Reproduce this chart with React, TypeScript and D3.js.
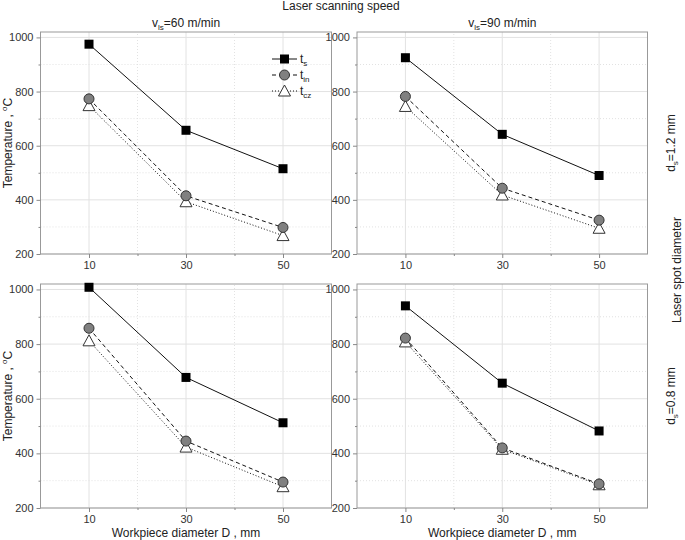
import React, { useEffect, useRef } from "react";
import * as d3 from "d3";

// workpiece diameter D, mm
const diameters = [10, 30, 50];
const xTicks = [10, 30, 50];
const xMinor = [20, 40];
const yTicks = [200, 400, 600, 800, 1000];
const yMinor = [300, 500, 700, 900];

// laser scanning speed (columns) and spot diameter (rows)
const speeds = ["60", "90"];
const spots = ["1.2", "0.8"];

// temperatures, °C
const ts60_12 = [975, 657, 515];
const tin60_12 = [773, 415, 298];
const tcz60_12 = [748, 393, 268];

const ts90_12 = [925, 642, 490];
const tin90_12 = [782, 443, 325];
const tcz90_12 = [745, 418, 295];

const ts60_08 = [1008, 678, 512];
const tin60_08 = [858, 445, 295];
const tcz60_08 = [812, 423, 278];

const ts90_08 = [940, 657, 482];
const tin90_08 = [822, 420, 288];
const tcz90_08 = [808, 415, 285];

const seriesNames = ["s", "in", "cz"];

const panels = [
  { row: 0, col: 0, series: [ts60_12, tin60_12, tcz60_12] },
  { row: 0, col: 1, series: [ts90_12, tin90_12, tcz90_12] },
  { row: 1, col: 0, series: [ts60_08, tin60_08, tcz60_08] },
  { row: 1, col: 1, series: [ts90_08, tin90_08, tcz90_08] },
];

const FONT = "Liberation Sans, Arial, sans-serif";

const App = () => {
  const ref = useRef<SVGSVGElement | null>(null);

  useEffect(() => {
    if (!ref.current) return;
    const svg = d3.select(ref.current);
    svg.selectAll("*").remove();

    const colRanges = [
      [40.5, 331.5],
      [357, 647.5],
    ];
    const rowRanges = [
      [254, 32],
      [508, 284],
    ];
    const dashes = [null, "4,3", "1,2"];

    // header
    svg
      .append("text")
      .attr("x", 341)
      .attr("y", 10)
      .attr("text-anchor", "middle")
      .attr("font-size", 12)
      .attr("fill", "#222")
      .text("Laser scanning speed");

    speeds.forEach((s, i) => {
      const cx = (colRanges[i][0] + colRanges[i][1]) / 2;
      const t = svg
        .append("text")
        .attr("x", cx)
        .attr("y", 27)
        .attr("text-anchor", "middle")
        .attr("font-size", 12)
        .attr("fill", "#222");
      t.append("tspan").text("v");
      t.append("tspan").attr("font-size", 8).attr("dy", 3).text("ls");
      t.append("tspan").attr("dy", -3).text(`=${s} m/min`);
    });

    spots.forEach((s, i) => {
      const cy = (rowRanges[i][0] + rowRanges[i][1]) / 2;
      const t = svg
        .append("text")
        .attr("transform", `translate(675,${cy}) rotate(-90)`)
        .attr("text-anchor", "middle")
        .attr("font-size", 12)
        .attr("fill", "#222");
      t.append("tspan").text("d");
      t.append("tspan").attr("font-size", 8).attr("dy", 3).text("s");
      t.append("tspan").attr("dy", -3).text(`=${s} mm`);
    });

    svg
      .append("text")
      .attr("transform", `translate(681,270) rotate(-90)`)
      .attr("text-anchor", "middle")
      .attr("font-size", 12)
      .attr("fill", "#222")
      .text("Laser spot diameter");

    panels.forEach((p) => {
      const x = d3.scaleLinear().domain([0, 60]).range(colRanges[p.col]);
      const y = d3.scaleLinear().domain([200, 1020]).range(rowRanges[p.row]);
      const g = svg.append("g");
      const [x0, x1] = x.range();
      const [yb, yt] = y.range();

      // grid
      g.selectAll(".gy")
        .data(yTicks)
        .enter()
        .append("line")
        .attr("x1", x0)
        .attr("x2", x1)
        .attr("y1", (d) => y(d))
        .attr("y2", (d) => y(d))
        .attr("stroke", "#e2e2e2")
        .attr("stroke-width", 1);
      g.selectAll(".gym")
        .data(yMinor)
        .enter()
        .append("line")
        .attr("x1", x0)
        .attr("x2", x1)
        .attr("y1", (d) => y(d))
        .attr("y2", (d) => y(d))
        .attr("stroke", "#e2e2e2")
        .attr("stroke-dasharray", "1,2");
      g.selectAll(".gx")
        .data(xTicks)
        .enter()
        .append("line")
        .attr("x1", (d) => x(d))
        .attr("x2", (d) => x(d))
        .attr("y1", yb)
        .attr("y2", yt)
        .attr("stroke", "#e2e2e2");
      g.selectAll(".gxm")
        .data(xMinor)
        .enter()
        .append("line")
        .attr("x1", (d) => x(d))
        .attr("x2", (d) => x(d))
        .attr("y1", yb)
        .attr("y2", yt)
        .attr("stroke", "#e2e2e2")
        .attr("stroke-dasharray", "1,2");

      // frame
      g.append("rect")
        .attr("x", x0)
        .attr("y", yt)
        .attr("width", x1 - x0)
        .attr("height", yb - yt)
        .attr("fill", "none")
        .attr("stroke", "#999");

      // y axis
      const ya = g
        .append("g")
        .attr("transform", `translate(${x0},0)`)
        .call(
          d3
            .axisLeft(y)
            .tickValues(yTicks)
            .tickSize(4)
            .tickPadding(3)
            .tickFormat(d3.format("d")),
        )
        .call((a) => a.select(".domain").remove());
      ya.selectAll(".tick line").attr("stroke", "#888");
      ya.selectAll("text")
        .attr("font-family", FONT)
        .attr("font-size", 11)
        .attr("fill", "#333");
      g.append("g")
        .attr("transform", `translate(${x0},0)`)
        .call(d3.axisLeft(y).tickValues(yMinor).tickSize(2).tickFormat(() => ""))
        .call((a) => a.select(".domain").remove())
        .selectAll(".tick line")
        .attr("stroke", "#888");

      // x axis
      const xa = g
        .append("g")
        .attr("transform", `translate(0,${yb})`)
        .call(
          d3
            .axisBottom(x)
            .tickValues(xTicks)
            .tickSize(4)
            .tickPadding(3)
            .tickFormat(d3.format("d")),
        )
        .call((a) => a.select(".domain").remove());
      xa.selectAll(".tick line").attr("stroke", "#888");
      xa.selectAll("text")
        .attr("font-family", FONT)
        .attr("font-size", 11)
        .attr("fill", "#333");
      g.append("g")
        .attr("transform", `translate(0,${yb})`)
        .call(d3.axisBottom(x).tickValues(xMinor).tickSize(2).tickFormat(() => ""))
        .call((a) => a.select(".domain").remove())
        .selectAll(".tick line")
        .attr("stroke", "#888");

      // axis titles
      if (p.col === 0) {
        const t = g
          .append("text")
          .attr("transform", `translate(12,${(yb + yt) / 2}) rotate(-90)`)
          .attr("text-anchor", "middle")
          .attr("font-size", 12)
          .attr("fill", "#222");
        t.append("tspan").text("Temperature , ");
        t.append("tspan").attr("font-size", 8).attr("dy", -5).text("o");
        t.append("tspan").attr("dy", 5).text("C");
      }
      if (p.row === 1) {
        g.append("text")
          .attr("x", (x0 + x1) / 2)
          .attr("y", 537)
          .attr("text-anchor", "middle")
          .attr("font-size", 12)
          .attr("fill", "#222")
          .text("Workpiece diameter D , mm");
      }

      // lines
      const line = d3
        .line<number>()
        .x((_, i) => x(diameters[i]))
        .y((d) => y(d));
      [2, 1, 0].forEach((k) => {
        g.append("path")
          .attr("d", line(p.series[k]))
          .attr("fill", "none")
          .attr("stroke", "#111")
          .attr("stroke-width", 1)
          .attr("stroke-dasharray", dashes[k]);
      });

      // markers
      const drawMarker = (sel: any, k: number, cx: number, cy: number) => {
        if (k === 0) {
          sel
            .append("rect")
            .attr("x", cx - 4.5)
            .attr("y", cy - 4.5)
            .attr("width", 9)
            .attr("height", 9)
            .attr("fill", "#000");
        } else if (k === 1) {
          sel
            .append("circle")
            .attr("cx", cx)
            .attr("cy", cy)
            .attr("r", 5)
            .attr("fill", "#808080")
            .attr("stroke", "#333");
        } else {
          sel
            .append("path")
            .attr("d", `M${cx},${cy - 6}L${cx + 6},${cy + 5}L${cx - 6},${cy + 5}Z`)
            .attr("fill", "#fff")
            .attr("stroke", "#333");
        }
      };
      [2, 1, 0].forEach((k) => {
        p.series[k].forEach((v, i) => drawMarker(g, k, x(diameters[i]), y(v)));
      });

      // legend
      if (p.row === 0 && p.col === 0) {
        const lg = g.append("g");
        seriesNames.forEach((name, k) => {
          const ly = 59 + k * 16;
          lg.append("line")
            .attr("x1", 272)
            .attr("x2", 297)
            .attr("y1", ly)
            .attr("y2", ly)
            .attr("stroke", "#111")
            .attr("stroke-dasharray", dashes[k]);
          drawMarker(lg, k, 284.5, ly);
          const t = lg
            .append("text")
            .attr("x", 300)
            .attr("y", ly + 4)
            .attr("font-size", 12)
            .attr("fill", "#222");
          t.append("tspan").text("t");
          t.append("tspan").attr("font-size", 8).attr("dy", 3).text(name);
        });
      }
    });
  }, []);

  return (
    <svg
      ref={ref}
      width={685}
      height={540}
      style={{
        position: "absolute",
        left: 0,
        top: 0,
        background: "#fff",
        fontFamily: FONT,
      }}
    ></svg>
  );
};

export default App;
